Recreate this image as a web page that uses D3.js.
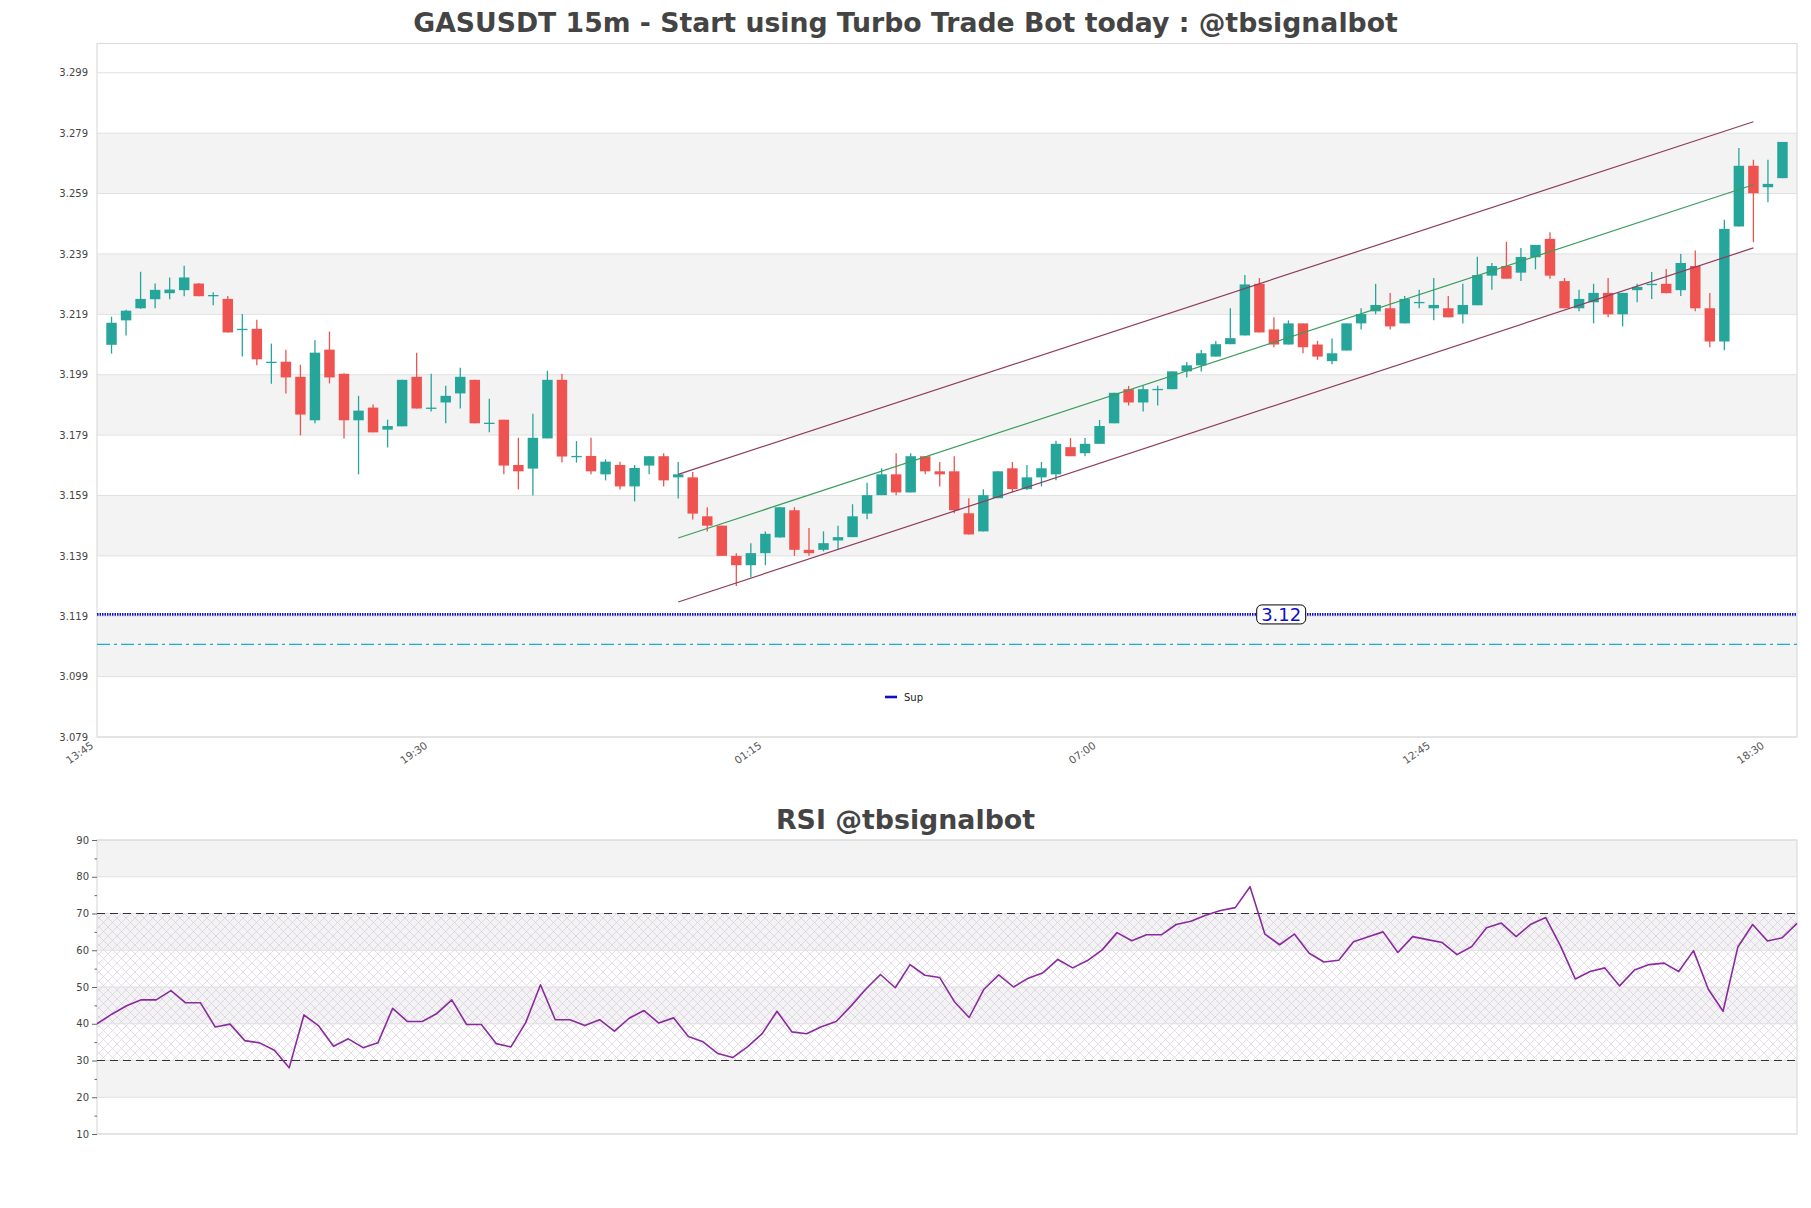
<!DOCTYPE html>
<html><head><meta charset="utf-8">
<script src="https://cdn.jsdelivr.net/npm/d3@7"></script>
<style>html,body{margin:0;padding:0;background:#fff;}svg{display:block;}</style>
</head><body>
<svg id="chart" width="1811" height="1208"></svg>
<script>
// ---------- DATA ----------
const times = ["14:00","14:15","14:30","14:45","15:00","15:15","15:30","15:45","16:00","16:15","16:30","16:45","17:00","17:15","17:30","17:45","18:00","18:15","18:30","18:45","19:00","19:15","19:30","19:45","20:00","20:15","20:30","20:45","21:00","21:15","21:30","21:45","22:00","22:15","22:30","22:45","23:00","23:15","23:30","23:45","00:00","00:15","00:30","00:45","01:00","01:15","01:30","01:45","02:00","02:15","02:30","02:45","03:00","03:15","03:30","03:45","04:00","04:15","04:30","04:45","05:00","05:15","05:30","05:45","06:00","06:15","06:30","06:45","07:00","07:15","07:30","07:45","08:00","08:15","08:30","08:45","09:00","09:15","09:30","09:45","10:00","10:15","10:30","10:45","11:00","11:15","11:30","11:45","12:00","12:15","12:30","12:45","13:00","13:15","13:30","13:45","14:00","14:15","14:30","14:45","15:00","15:15","15:30","15:45","16:00","16:15","16:30","16:45","17:00","17:15","17:30","17:45","18:00","18:15","18:30","18:45"];
const open  = [3.2089,3.2170,3.2210,3.2240,3.2260,3.2270,3.2292,3.2252,3.2241,3.2140,3.2142,3.2031,3.2033,3.1983,3.1839,3.2073,3.1993,3.1839,3.1881,3.1808,3.1819,3.1983,3.1877,3.1898,3.1928,3.1973,3.1829,3.1841,3.1691,3.1679,3.1779,3.1973,3.1719,3.1721,3.1660,3.1691,3.1620,3.1689,3.1720,3.1650,3.1650,3.1521,3.1490,3.1390,3.1359,3.1399,3.1451,3.1541,3.1410,3.1410,3.1441,3.1452,3.1530,3.1591,3.1660,3.1600,3.1720,3.1670,3.1670,3.1531,3.1471,3.1581,3.1680,3.1611,3.1650,3.1660,3.1750,3.1730,3.1761,3.1829,3.1942,3.1898,3.1941,3.1942,3.2001,3.2021,3.2050,3.2091,3.2120,3.2291,3.2140,3.2090,3.2160,3.2090,3.2035,3.2070,3.2160,3.2200,3.2210,3.2160,3.2229,3.2210,3.2210,3.2190,3.2220,3.2318,3.2350,3.2328,3.2379,3.2440,3.2300,3.2210,3.2230,3.2261,3.2190,3.2270,3.2288,3.2291,3.2270,3.2350,3.2210,3.2100,3.2481,3.2682,3.2611,3.2641];
const high  = [3.2182,3.2205,3.2331,3.2292,3.2312,3.2351,3.2294,3.2263,3.2251,3.2191,3.2172,3.2093,3.2073,3.2023,3.2104,3.2133,3.1995,3.1920,3.1891,3.1841,3.1973,3.2063,3.1993,3.1953,3.2013,3.1973,3.1910,3.1841,3.1781,3.1861,3.2003,3.1993,3.1770,3.1781,3.1710,3.1702,3.1691,3.1720,3.1730,3.1701,3.1668,3.1551,3.1490,3.1399,3.1432,3.1471,3.1551,3.1551,3.1482,3.1471,3.1490,3.1561,3.1632,3.1680,3.1730,3.1730,3.1720,3.1701,3.1720,3.1581,3.1611,3.1670,3.1701,3.1691,3.1701,3.1771,3.1780,3.1780,3.1840,3.1930,3.1953,3.1953,3.1953,3.2001,3.2032,3.2072,3.2102,3.2210,3.2320,3.2310,3.2180,3.2170,3.2160,3.2102,3.2110,3.2160,3.2210,3.2291,3.2261,3.2251,3.2271,3.2310,3.2251,3.2291,3.2381,3.2360,3.2430,3.2410,3.2420,3.2462,3.2310,3.2271,3.2291,3.2310,3.2261,3.2291,3.2330,3.2340,3.2390,3.2401,3.2261,3.2503,3.2741,3.2702,3.2702,3.2761];
const low   = [3.2060,3.2120,3.2208,3.2210,3.2240,3.2250,3.2250,3.2220,3.2130,3.2050,3.2021,3.1960,3.1928,3.1789,3.1829,3.1961,3.1779,3.1660,3.1799,3.1749,3.1819,3.1878,3.1868,3.1829,3.1878,3.1829,3.1799,3.1660,3.1610,3.1590,3.1779,3.1699,3.1699,3.1660,3.1640,3.1610,3.1570,3.1660,3.1620,3.1580,3.1510,3.1471,3.1390,3.1290,3.1319,3.1359,3.1451,3.1390,3.1390,3.1405,3.1410,3.1452,3.1511,3.1591,3.1591,3.1600,3.1660,3.1620,3.1531,3.1461,3.1471,3.1581,3.1600,3.1608,3.1620,3.1640,3.1720,3.1720,3.1761,3.1829,3.1888,3.1868,3.1888,3.1942,3.1981,3.2001,3.2050,3.2091,3.2120,3.2130,3.2081,3.2090,3.2061,3.2039,3.2025,3.2070,3.2140,3.2190,3.2140,3.2160,3.2210,3.2170,3.2180,3.2160,3.2220,3.2271,3.2308,3.2300,3.2339,3.2308,3.2210,3.2200,3.2160,3.2180,3.2150,3.2230,3.2241,3.2260,3.2251,3.2200,3.2081,3.2071,3.2481,3.2429,3.2561,3.2641];
const close = [3.2162,3.2202,3.2241,3.2271,3.2272,3.2312,3.2250,3.2254,3.2130,3.2142,3.2041,3.2033,3.1981,3.1858,3.2063,3.1981,3.1839,3.1871,3.1799,3.1820,3.1973,3.1878,3.1881,3.1920,3.1983,3.1829,3.1831,3.1689,3.1670,3.1781,3.1973,3.1719,3.1721,3.1670,3.1702,3.1620,3.1681,3.1720,3.1640,3.1660,3.1530,3.1490,3.1390,3.1359,3.1399,3.1463,3.1551,3.1410,3.1399,3.1432,3.1452,3.1521,3.1591,3.1660,3.1600,3.1720,3.1670,3.1660,3.1541,3.1461,3.1591,3.1670,3.1611,3.1650,3.1680,3.1761,3.1720,3.1761,3.1820,3.1930,3.1898,3.1942,3.1943,3.2001,3.2021,3.2061,3.2091,3.2111,3.2289,3.2130,3.2090,3.2160,3.2081,3.2050,3.2061,3.2160,3.2191,3.2221,3.2150,3.2241,3.2231,3.2221,3.2180,3.2221,3.2320,3.2350,3.2308,3.2380,3.2420,3.2318,3.2210,3.2241,3.2261,3.2190,3.2261,3.2281,3.2291,3.2260,3.2360,3.2210,3.2100,3.2473,3.2682,3.2591,3.2622,3.2761];
const rsi = [40.0,42.6,44.9,46.5,46.5,49.0,45.7,45.7,39.1,39.9,35.4,34.8,32.8,28.0,42.4,39.4,33.9,35.9,33.5,34.8,44.2,40.6,40.6,42.8,46.5,39.8,39.8,34.6,33.7,40.3,50.6,41.1,41.1,39.5,41.1,38.0,41.5,43.6,40.2,41.6,36.5,35.1,31.9,30.8,33.7,37.3,43.4,37.8,37.3,39.2,40.6,44.8,49.4,53.4,49.8,56.1,53.2,52.6,46.0,41.7,49.4,53.3,50.0,52.4,53.9,57.5,55.2,57.2,60.1,64.8,62.6,64.2,64.2,67.0,67.9,69.5,70.8,71.6,77.3,64.4,61.5,64.4,59.2,56.8,57.3,62.3,63.7,65.0,59.4,63.7,62.9,62.1,58.8,61.0,66.1,67.4,63.7,67.1,68.9,61.2,52.2,54.2,55.2,50.3,54.6,56.1,56.5,54.2,59.9,49.4,43.4,60.9,67.0,62.5,63.4,67.3];
const xStartLabel = "13:45";               // axis start, one step before the first candle
const xTickLabels = ["19:30","01:15","07:00","12:45","18:30"];
const priceTicks = [3.079,3.099,3.119,3.139,3.159,3.179,3.199,3.219,3.239,3.259,3.279,3.299];
const rsiTicks = [10,20,30,40,50,60,70,80,90];
const rsiMinorTicks = [15,25,35,45,55,65,75,85];
// trend channel: [start candle index, end candle index]
const channelIdx = [39, 113];
const channelUpper = [3.1660, 3.2828];
const channelMid = [3.1449, 3.2619];
const channelLower = [3.1237, 3.2410];
const supportLevel = 3.1196;
const supportLabel = "3.12";
const dashLevel = 3.1097;
const legendName = "Sup";
const mainTitle = "GASUSDT 15m - Start using Turbo Trade Bot today : @tbsignalbot";
const rsiTitle = "RSI @tbsignalbot";
const rsiBounds = [30, 70];

// ---------- LAYOUT ----------
const L = 97, R = 1797, T = 43.5, B = 737;
const rT = 840, rB = 1134;
const svg = d3.select("#chart");
const FONT = "DejaVu Sans, sans-serif";
svg.append("rect").attr("width",1811).attr("height",1208).attr("fill","#fff");

const x = d3.scaleLinear().domain([-1, times.length]).range([L, R]);
const y = d3.scaleLinear().domain([3.079, 3.3087]).range([B, T]);
const xr = d3.scalePoint().domain(d3.range(rsi.length)).range([L, R]);
const ry = d3.scaleLinear().domain([10, 90]).range([rB, rT]);

const tickPos = [-1], tickText = [xStartLabel];
let from = 0;
xTickLabels.forEach(l => { const k = times.indexOf(l, from); tickPos.push(k); tickText.push(l); from = k + 1; });

const defs = svg.append("defs");
const pat = defs.append("pattern").attr("id","hatch").attr("patternUnits","userSpaceOnUse")
  .attr("width",9).attr("height",9);
pat.append("path").attr("d","M0,0L9,9M9,0L0,9M-1,8L1,10M8,-1L10,1M-1,1L1,-1M8,10L10,8")
  .attr("stroke","#ccbcd8").attr("stroke-width",0.6).attr("fill","none");
defs.append("clipPath").attr("id","clipMain").append("rect").attr("x",L).attr("y",T).attr("width",R-L).attr("height",B-T);

// ---------- TITLES ----------
svg.append("text").attr("x",905.5).attr("y",31.5).attr("text-anchor","middle")
  .attr("font-family",FONT).attr("font-weight","bold").attr("font-size",26.7).attr("fill","#444").text(mainTitle);
svg.append("text").attr("x",905.5).attr("y",829).attr("text-anchor","middle")
  .attr("font-family",FONT).attr("font-weight","bold").attr("font-size",26.8).attr("fill","#444").text(rsiTitle);

// ---------- MAIN PANEL ----------
const gm = svg.append("g");
for (let i = 0; i < priceTicks.length - 1; i++) {
  if (i % 2 === 1) {
    gm.append("rect").attr("x",L).attr("width",R-L)
      .attr("y",y(priceTicks[i+1])).attr("height",y(priceTicks[i]) - y(priceTicks[i+1]))
      .attr("fill","#f3f3f3");
  }
}
gm.selectAll("line.grid").data(priceTicks).join("line").attr("class","grid")
  .attr("x1",L).attr("x2",R).attr("y1",d=>y(d)).attr("y2",d=>y(d))
  .attr("stroke","#e0e0e0").attr("stroke-width",1);
gm.append("rect").attr("x",L).attr("y",T).attr("width",R-L).attr("height",B-T)
  .attr("fill","none").attr("stroke","#dcdcdc").attr("stroke-width",1.2);

const yAxis = d3.axisLeft(y).tickValues(priceTicks).tickFormat(d3.format(".3f")).tickSize(0).tickPadding(9);
const gya = svg.append("g").attr("transform",`translate(${L},0)`).call(yAxis);
gya.select(".domain").remove();
gya.selectAll("text").attr("font-family",FONT).attr("font-size",10).attr("fill","#444");

const xAxis = d3.axisBottom(x).tickValues(tickPos).tickFormat((d,i)=>tickText[i]).tickSize(0);
const gxa = svg.append("g").attr("transform",`translate(0,${B})`).call(xAxis);
gxa.select(".domain").remove();
gxa.selectAll("text").attr("font-family",FONT).attr("font-size",10.5).attr("fill","#555")
  .attr("text-anchor","end").attr("transform","translate(-7,3) rotate(-35)").attr("dy","0.75em").attr("dx","-0.1em").attr("y",0);

// support & dashed lines
gm.append("line").attr("x1",L).attr("x2",R).attr("y1",y(dashLevel)).attr("y2",y(dashLevel))
  .attr("stroke","#1ab0c8").attr("stroke-width",1.3).attr("stroke-dasharray","13,4,3,4");
gm.append("line").attr("x1",L).attr("x2",R).attr("y1",y(supportLevel)).attr("y2",y(supportLevel))
  .attr("stroke","#1010c0").attr("stroke-width",2.8).attr("stroke-dasharray","1.5,1");

// candles
const cw = (x(1) - x(0)) * 0.72;
const gc = gm.append("g").attr("clip-path","url(#clipMain)");
const idx = d3.range(open.length);
gc.selectAll("line.wick").data(idx).join("line").attr("class","wick")
  .attr("x1",i=>x(i)).attr("x2",i=>x(i)).attr("y1",i=>y(high[i])).attr("y2",i=>y(low[i]))
  .attr("stroke",i=>close[i]>=open[i]?"#26a69a":"#ef5350").attr("stroke-width",1.3);
gc.selectAll("rect.body").data(idx).join("rect").attr("class","body")
  .attr("x",i=>x(i)-cw/2).attr("width",cw)
  .attr("y",i=>y(Math.max(open[i],close[i])))
  .attr("height",i=>Math.max(1.3, Math.abs(y(open[i])-y(close[i]))))
  .attr("fill",i=>close[i]>=open[i]?"#26a69a":"#ef5350");

function chan(vals, color) {
  gm.append("line").attr("x1",x(channelIdx[0])).attr("x2",x(channelIdx[1]))
    .attr("y1",y(vals[0])).attr("y2",y(vals[1])).attr("stroke",color).attr("stroke-width",1.2);
}
chan(channelUpper, "#8e3d5a");
chan(channelLower, "#8e3d5a");
chan(channelMid, "#3a9d5d");

const lx = (x(80) + x(81)) / 2, ly = y(supportLevel);
const lbl = gm.append("g");
lbl.append("rect").attr("x",lx-24.5).attr("y",ly-9.5).attr("width",49).attr("height",19).attr("rx",5)
  .attr("fill","#fff").attr("stroke","#000").attr("stroke-width",1);
lbl.append("text").attr("x",lx).attr("y",ly+6.5).attr("text-anchor","middle")
  .attr("font-family",FONT).attr("font-size",18).attr("fill","#1010c8").text(supportLabel);

gm.append("line").attr("x1",885).attr("x2",897).attr("y1",697).attr("y2",697).attr("stroke","#1010c0").attr("stroke-width",2.6);
gm.append("text").attr("x",904).attr("y",700.5).attr("font-family",FONT).attr("font-size",10).attr("fill","#222").text(legendName);

// ---------- RSI PANEL ----------
const gr = svg.append("g");
for (let i = 0; i < rsiTicks.length - 1; i++) {
  if (i % 2 === 1) {
    gr.append("rect").attr("x",L).attr("width",R-L).attr("y",ry(rsiTicks[i+1]))
      .attr("height",ry(rsiTicks[i]) - ry(rsiTicks[i+1])).attr("fill","#f3f3f3");
  }
}
gr.append("rect").attr("x",L).attr("width",R-L).attr("y",ry(rsiBounds[1]))
  .attr("height",ry(rsiBounds[0]) - ry(rsiBounds[1])).attr("fill","url(#hatch)").attr("opacity",0.85);
gr.selectAll("line.grid").data(rsiTicks).join("line").attr("class","grid")
  .attr("x1",L).attr("x2",R).attr("y1",d=>ry(d)).attr("y2",d=>ry(d)).attr("stroke","#e0e0e0");
gr.append("rect").attr("x",L).attr("y",rT).attr("width",R-L).attr("height",rB-rT)
  .attr("fill","none").attr("stroke","#dcdcdc").attr("stroke-width",1.2);
rsiBounds.forEach(v => gr.append("line").attr("x1",L).attr("x2",R).attr("y1",ry(v)).attr("y2",ry(v))
  .attr("stroke","#333").attr("stroke-width",1.2).attr("stroke-dasharray","8,5"));

const ryAxis = d3.axisLeft(ry).tickValues(rsiTicks).tickSize(5).tickPadding(3);
const gra = svg.append("g").attr("transform",`translate(${L},0)`).call(ryAxis);
gra.select(".domain").remove();
gra.selectAll("line").attr("stroke","#666");
gra.selectAll("text").attr("font-family",FONT).attr("font-size",10).attr("fill","#444");
const rMinor = d3.axisLeft(ry).tickValues(rsiMinorTicks).tickSize(2.5).tickFormat("");
const grm = svg.append("g").attr("transform",`translate(${L},0)`).call(rMinor);
grm.select(".domain").remove();
grm.selectAll("line").attr("stroke","#666");

gr.append("path").datum(rsi)
  .attr("d", d3.line().x((d,i)=>xr(i)).y(d=>ry(d)))
  .attr("fill","none").attr("stroke","#8b2a9e").attr("stroke-width",1.6).attr("stroke-linejoin","round");
</script>
</body></html>
